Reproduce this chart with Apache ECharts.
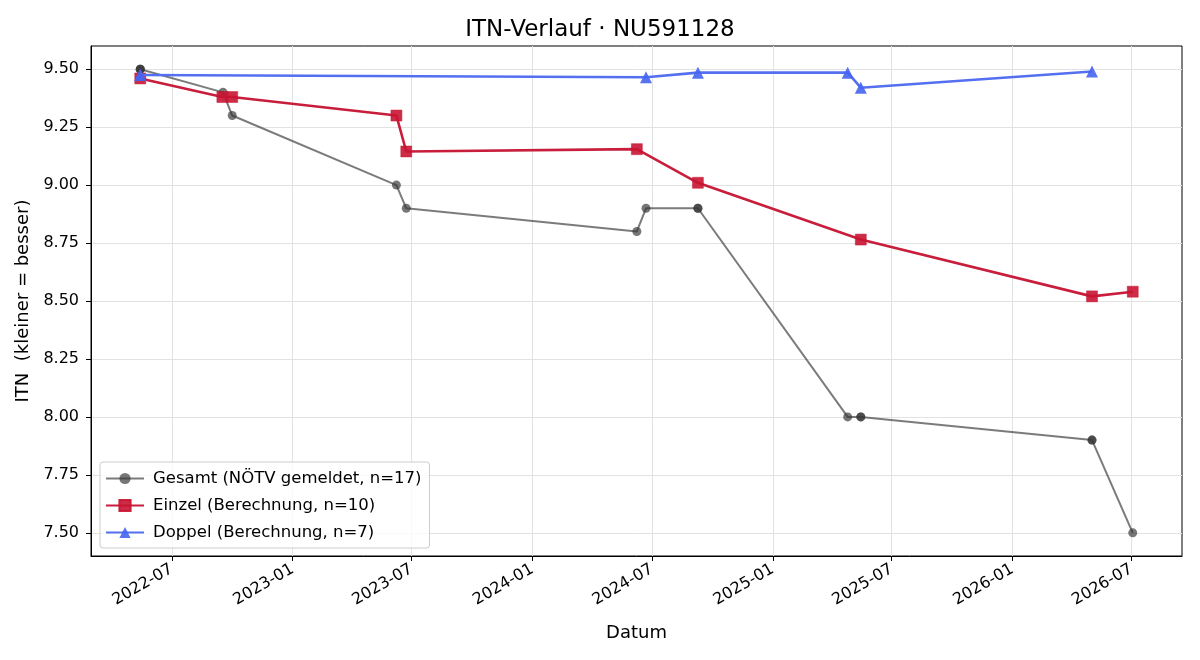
<!DOCTYPE html>
<html>
<head>
<meta charset="utf-8">
<script src="https://cdn.jsdelivr.net/npm/echarts@6/dist/echarts.min.js"></script>
<style>
  html, body { margin: 0; padding: 0; background: #fff; }
  #chart { width: 1200px; height: 660px; }
</style>
</head>
<body>
<div id="chart"></div>
<script>
/* ---------- data ---------- */
const gesamtDates = ['2022-05-14','2022-05-14','2022-05-14','2022-09-17','2022-10-01','2023-06-08','2023-06-23',
  '2024-06-08','2024-06-22','2024-09-09','2024-09-09','2025-04-25','2025-05-15','2025-05-15',
  '2026-05-02','2026-05-02','2026-07-03'];
const gesamtValues = [9.50, 9.50, 9.50, 9.40, 9.30, 9.00, 8.90,
  8.80, 8.90, 8.90, 8.90, 8.00, 8.00, 8.00,
  7.90, 7.90, 7.50];

const einzelDates = ['2022-05-14','2022-09-16','2022-10-01','2023-06-08','2023-06-23',
  '2024-06-08','2024-09-09','2025-05-15','2026-05-02','2026-07-03'];
const einzelValues = [9.46, 9.38, 9.38, 9.30, 9.145, 9.155, 9.01, 8.765, 8.52, 8.54];

const doppelDates = ['2022-05-14','2022-05-14','2024-06-22','2024-09-09','2025-04-25','2025-05-15','2026-05-02'];
const doppelValues = [9.475, 9.475, 9.465, 9.485, 9.485, 9.42, 9.49];

const xTickLabels = ['2022-07','2023-01','2023-07','2024-01','2024-07','2025-01','2025-07','2026-01','2026-07'];
const yTicks = [7.50, 7.75, 8.00, 8.25, 8.50, 8.75, 9.00, 9.25, 9.50];

/* ---------- helpers ---------- */
const toTs = s => new Date(s + 'T00:00:00').getTime();
const pairs = (d, v) => d.map((x, i) => [toTs(x), v[i]]);
const xTicks = xTickLabels.map(s => toTs(s + '-01'));
const fmtMonth = v => {
  const d = new Date(v);
  return d.getFullYear() + '-' + String(d.getMonth() + 1).padStart(2, '0');
};

const FONT = 'DejaVu Sans';
const chart = echarts.init(document.getElementById('chart'));

chart.setOption({
  backgroundColor: '#fff',
  animation: false,
  textStyle: { fontFamily: FONT },
  title: {
    text: 'ITN-Verlauf · NU591128',
    left: 'center',
    top: 14,
    textStyle: { fontFamily: FONT, fontSize: 23, fontWeight: 'normal', color: '#000' }
  },
  grid: {
    left: 91, right: 18, top: 46, bottom: 104,
    show: true, borderColor: '#000', borderWidth: 1, backgroundColor: 'transparent'
  },
  legend: {
    orient: 'vertical',
    left: 100,
    top: 462,
    padding: [8, 8, 7, 5],
    itemWidth: 38,
    itemHeight: 14,
    itemGap: 10,
    backgroundColor: 'rgba(255,255,255,0.8)',
    borderColor: '#cccccc',
    borderWidth: 1,
    borderRadius: 3,
    textStyle: { fontFamily: FONT, fontSize: 16.5, color: '#000', padding: [0, 0, 0, 4] }
  },
  xAxis: {
    type: 'value',
    min: toTs('2022-02-28'),
    max: toTs('2026-09-16'),
    name: 'Datum',
    nameLocation: 'middle',
    nameGap: 68,
    nameTextStyle: { fontFamily: FONT, fontSize: 18, color: '#000' },
    axisLine: { show: true, onZero: false, lineStyle: { color: '#000', width: 1 } },
    axisTick: { show: true, length: 5, customValues: xTicks, lineStyle: { color: '#000' } },
    axisLabel: {
      customValues: xTicks,
      formatter: fmtMonth,
      rotate: 30,
      fontFamily: FONT, fontSize: 16, color: '#000',
      margin: 12,
      hideOverlap: false
    },
    splitLine: { show: true, lineStyle: { color: '#e2e2e2', width: 1 } }
  },
  yAxis: {
    type: 'value',
    min: 7.4,
    max: 9.6,
    name: 'ITN  (kleiner = besser)',
    nameLocation: 'middle',
    nameGap: 57,
    nameTextStyle: { fontFamily: FONT, fontSize: 18, color: '#000' },
    axisLine: { show: true, onZero: false, lineStyle: { color: '#000', width: 1 } },
    axisTick: { show: true, length: 5, customValues: yTicks, lineStyle: { color: '#000' } },
    axisLabel: {
      customValues: yTicks,
      formatter: v => v.toFixed(2),
      fontFamily: FONT, fontSize: 16, color: '#000', margin: 12
    },
    splitLine: { show: true, lineStyle: { color: '#e2e2e2', width: 1 } }
  },
  series: [
    {
      name: 'Gesamt (NÖTV gemeldet, n=17)',
      type: 'line',
      data: pairs(gesamtDates, gesamtValues),
      symbol: 'circle',
      symbolSize: 9,
      lineStyle: { color: 'rgba(60,60,60,0.68)', width: 2 },
      itemStyle: { color: 'rgba(55,55,55,0.68)' },
      z: 2
    },
    {
      name: 'Einzel (Berechnung, n=10)',
      type: 'line',
      data: pairs(einzelDates, einzelValues),
      symbol: 'rect',
      symbolSize: 11,
      lineStyle: { color: '#c81e3c', width: 2.6 },
      itemStyle: { color: 'rgba(200,20,50,0.9)', borderColor: 'rgba(200,20,50,0.9)', borderWidth: 0.5 },
      z: 3
    },
    {
      name: 'Doppel (Berechnung, n=7)',
      type: 'line',
      data: pairs(doppelDates, doppelValues),
      symbol: 'triangle',
      symbolSize: 12,
      lineStyle: { color: '#5470f0', width: 2.6 },
      itemStyle: { color: 'rgba(70,100,240,0.9)' },
      z: 4
    }
  ]
});
</script>
</body>
</html>
